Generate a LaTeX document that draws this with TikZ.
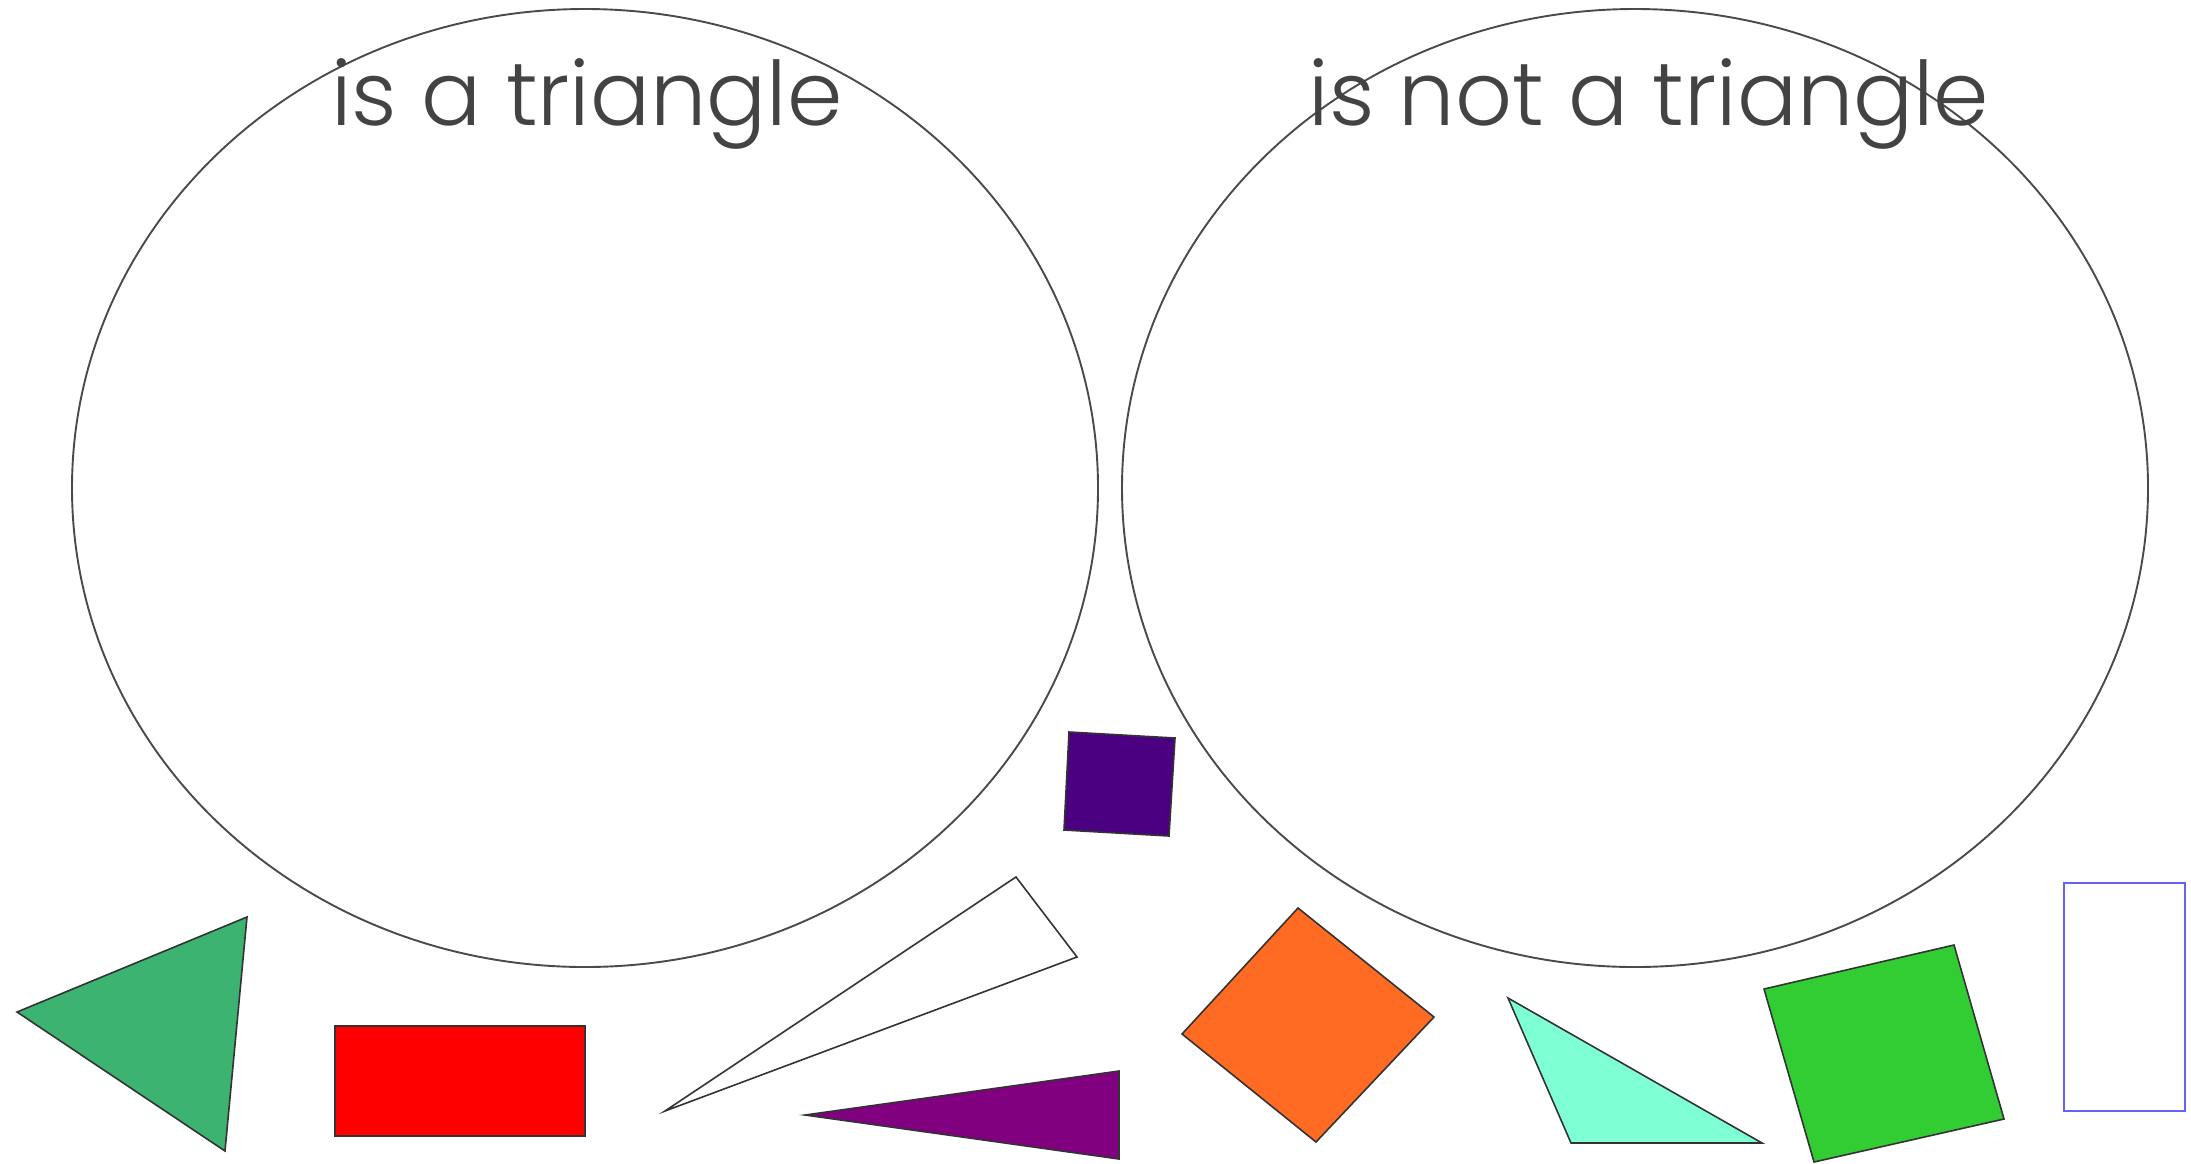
\documentclass[tikz,border=0pt]{standalone}
\usepackage{fontspec}
\newfontfamily\lblfont{Poppins}[UprightFont={* Light}]
\definecolor{txt}{HTML}{434343}
\definecolor{ring}{HTML}{4A4A4A}
\definecolor{edge}{HTML}{333333}
\definecolor{cseagreen}{HTML}{3CB371}
\definecolor{cred}{HTML}{FF0000}
\definecolor{cpurple}{HTML}{800080}
\definecolor{cindigo}{HTML}{4B0082}
\definecolor{corange}{HTML}{FF6B22}
\definecolor{caqua}{HTML}{7FFFD4}
\definecolor{clime}{HTML}{32CD32}
\definecolor{cblue}{HTML}{6464F0}
\begin{document}
\begin{tikzpicture}[x=1pt,y=-1pt,
  ringline/.style={draw=ring,line width=1.9pt},
  shapeline/.style={draw=edge,line width=1.6pt,line join=miter},
  label/.style={text=txt,font=\lblfont\fontsize{89}{106}\selectfont,anchor=base,inner sep=0pt}]
\useasboundingbox[fill=white] (0,0) rectangle (2191,1163);
% circles
\draw[ringline] (585,488) ellipse [x radius=513, y radius=479];
\draw[ringline] (1635,488) ellipse [x radius=513, y radius=479];
% shapes
\draw[shapeline,fill=cseagreen] (17,1012) -- (247,917) -- (225,1151) -- cycle;
\draw[shapeline,fill=cred] (335,1026) rectangle (585,1136);
\draw[shapeline,fill=white] (665,1111) -- (1016,877) -- (1077,957) -- cycle;
\draw[shapeline,fill=cpurple] (805,1115) -- (1119,1071) -- (1119,1159) -- cycle;
\draw[shapeline,fill=cindigo] (1069,732) -- (1175,738) -- (1169,836) -- (1064,830) -- cycle;
\draw[shapeline,fill=corange] (1298,908) -- (1434,1017) -- (1316,1142) -- (1182,1034) -- cycle;
\draw[shapeline,fill=caqua] (1508,998) -- (1762,1143) -- (1571,1143) -- cycle;
\draw[shapeline,fill=clime] (1764,989) -- (1954,945) -- (2004,1119) -- (1814,1162) -- cycle;
\draw[draw=cblue,line width=2.6pt,fill=white] (2064,883) rectangle (2185,1111);
% labels
\node[label] (lt) at (587,125) {is a triangle};
\node[label] (rt) at (1649,125) {is not a triangle};
\end{tikzpicture}
\end{document}
